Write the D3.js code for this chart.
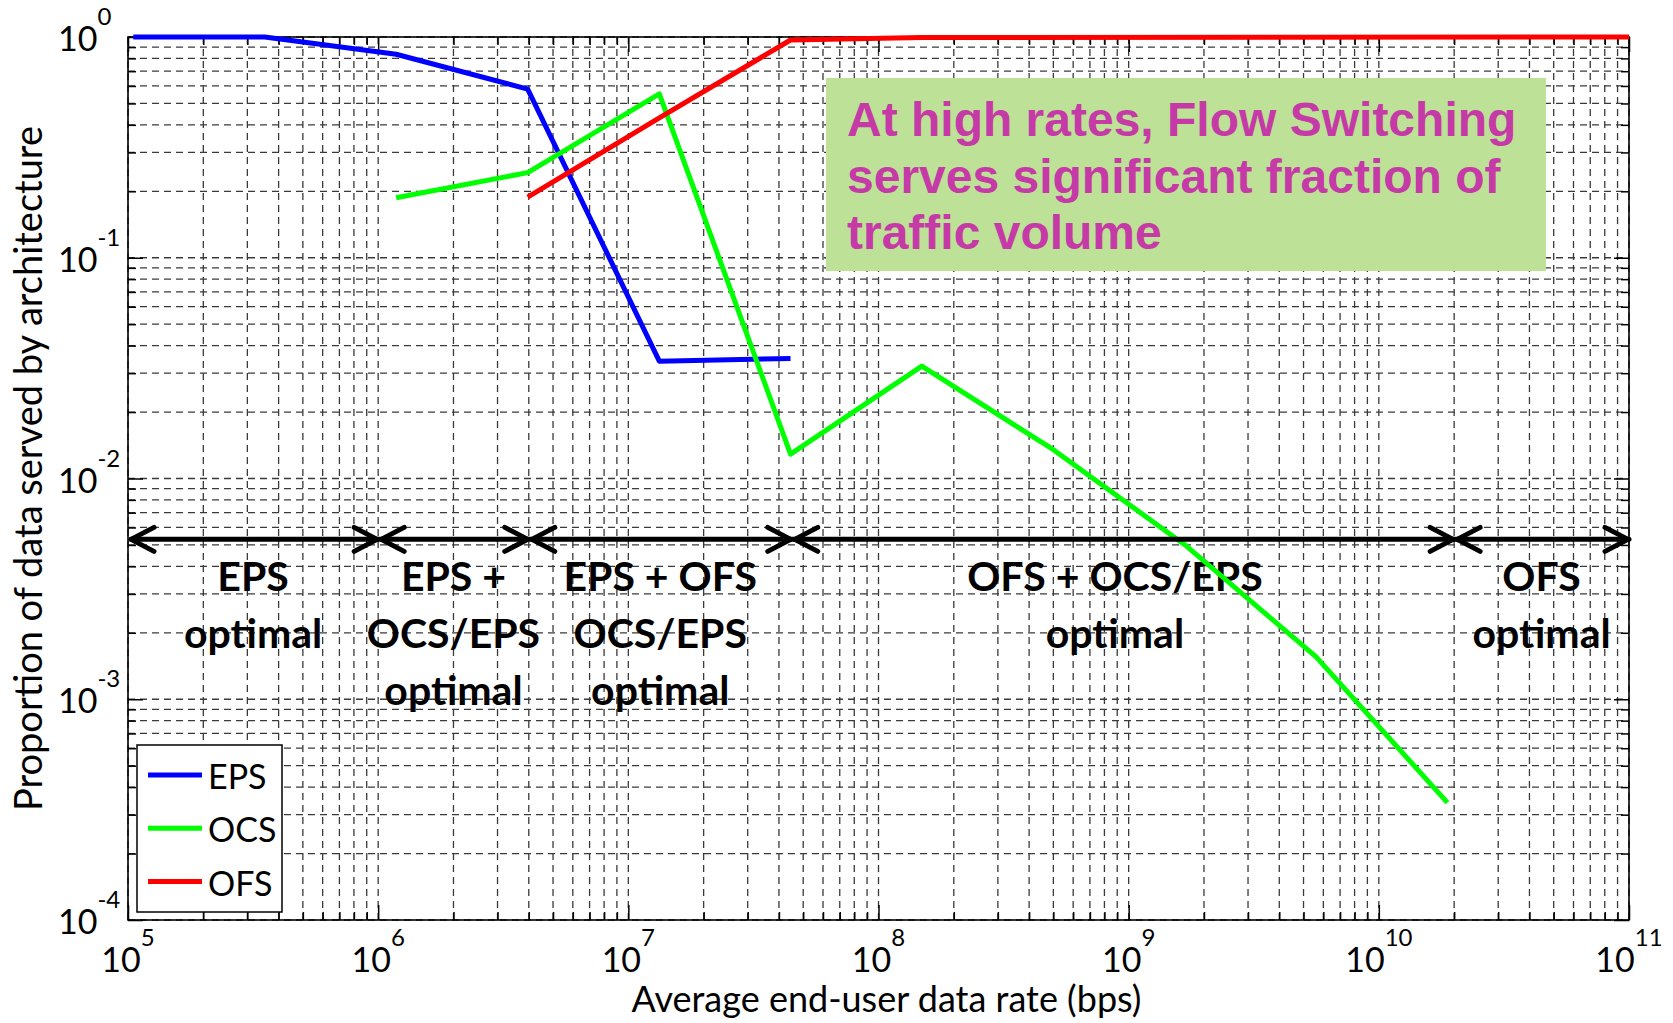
<!DOCTYPE html>
<html>
<head>
<meta charset="utf-8">
<script src="https://cdn.jsdelivr.net/npm/d3@7"></script>
<style>
  body { margin: 0; background: #fff; }
  svg { display: block; }
</style>
</head>
<body>
<div id="chart"></div>
<script>
// series (rate in bps, share of data)
const epsRate  = [1.05e5, 3.52e5, 1.18e6, 3.96e6, 1.33e7, 4.45e7];
const epsShare = [1.0, 1.0, 0.835, 0.581, 0.034, 0.035];
const ocsRate  = [1.18e6, 3.96e6, 1.33e7, 4.45e7, 1.49e8, 5.0e8, 1.68e9, 5.6e9, 1.88e10];
const ocsShare = [0.187, 0.243, 0.552, 0.0129, 0.0323, 0.0135, 0.005, 0.00156, 0.00034];
const ofsRate  = [3.96e6, 1.33e7, 4.45e7, 1.49e8, 1e11];
const ofsShare = [0.188, 0.43, 0.969, 0.995, 1.0];

const xExponents = [5, 6, 7, 8, 9, 10, 11];
const yExponents = [0, -1, -2, -3, -4];

// regions marked with arrows
const regionBounds = [1e5, 1e6, 4e6, 4.5e7, 2e10, 1e11];
const regionLabels = [
  ["EPS", "optimal"],
  ["EPS +", "OCS/EPS", "optimal"],
  ["EPS + OFS", "OCS/EPS", "optimal"],
  ["OFS + OCS/EPS", "optimal"],
  ["OFS", "optimal"]
];
const arrowLevel = 0.0053;

const noteLines = ["At high rates, Flow Switching", "serves significant fraction of", "traffic volume"];

const series = [
  { name: "EPS", color: "#0000ff", rate: epsRate, share: epsShare },
  { name: "OCS", color: "#00ff00", rate: ocsRate, share: ocsShare },
  { name: "OFS", color: "#ff0000", rate: ofsRate, share: ofsShare }
];

const W = 1673, H = 1023;
const margin = { left: 128, right: W - 1629, top: 37, bottom: H - 920 };
const innerW = W - margin.left - margin.right;
const innerH = H - margin.top - margin.bottom;

const svg = d3.select("#chart").append("svg").attr("width", W).attr("height", H);
const g = svg.append("g").attr("transform", `translate(${margin.left},${margin.top})`);

const x = d3.scaleLog().domain([1e5, 1e11]).range([0, innerW]);
const y = d3.scaleLog().domain([1e-4, 1]).range([innerH, 0]);

// minor + major tick values
const xMinor = [], yMinor = [];
for (let e = 5; e < 11; e++) for (let m = 2; m <= 9; m++) xMinor.push(m * Math.pow(10, e));
for (let e = -4; e < 0; e++) for (let m = 2; m <= 9; m++) yMinor.push(m * Math.pow(10, e));
const xMajor = xExponents.map(e => Math.pow(10, e));
const yMajor = yExponents.map(e => Math.pow(10, e));

// dashed grid
const grid = g.append("g").attr("stroke", "#3a3a3a").attr("stroke-width", 1.3).attr("stroke-dasharray", "7,5");
grid.selectAll(".vx").data(xMajor.concat(xMinor)).enter().append("line")
  .attr("x1", d => x(d)).attr("x2", d => x(d)).attr("y1", innerH).attr("y2", 0);
grid.selectAll(".hy").data(yMajor.concat(yMinor)).enter().append("line")
  .attr("x1", 0).attr("x2", innerW).attr("y1", d => y(d)).attr("y2", d => y(d));

// inside ticks on all four sides
function tickAxis(axis, values, size, transform) {
  g.append("g").attr("transform", transform)
    .call(axis.tickValues(values).tickSize(size).tickFormat(""))
    .call(s => s.select(".domain").remove())
    .call(s => s.selectAll("line").attr("stroke", "#000").attr("stroke-width", 1.5));
}
tickAxis(d3.axisBottom(x), xMajor, -15, `translate(0,${innerH})`);
tickAxis(d3.axisBottom(x), xMinor, -8, `translate(0,${innerH})`);
tickAxis(d3.axisTop(x), xMajor, -15, "translate(0,0)");
tickAxis(d3.axisTop(x), xMinor, -8, "translate(0,0)");
tickAxis(d3.axisLeft(y), yMajor, -15, "translate(0,0)");
tickAxis(d3.axisLeft(y), yMinor, -8, "translate(0,0)");
tickAxis(d3.axisRight(y), yMajor, -15, `translate(${innerW},0)`);
tickAxis(d3.axisRight(y), yMinor, -8, `translate(${innerW},0)`);

g.append("rect").attr("width", innerW).attr("height", innerH)
  .attr("fill", "none").attr("stroke", "#000").attr("stroke-width", 1.6);

// tick labels with superscripts
const tickFont = "Lato, 'Open Sans', sans-serif";
xExponents.forEach(e => {
  const t = g.append("text").attr("x", x(Math.pow(10, e))).attr("y", innerH + 52)
    .attr("text-anchor", "middle").attr("font-family", tickFont).attr("font-size", 34).attr("fill", "#000");
  t.append("tspan").text("10");
  t.append("tspan").attr("dy", -26).attr("font-size", 24).text(e);
});
yExponents.forEach(e => {
  const t = svg.append("text").attr("x", 58).attr("y", margin.top + y(Math.pow(10, e)) + 14)
    .attr("font-family", tickFont).attr("font-size", 34).attr("fill", "#000");
  t.append("tspan").text("10");
  t.append("tspan").attr("dy", -26).attr("font-size", 24).text(e);
});

// axis titles
svg.append("text").attr("x", margin.left + innerW / 2 + 8).attr("y", 1012)
  .attr("text-anchor", "middle").attr("font-family", tickFont).attr("font-size", 36)
  .text("Average end-user data rate (bps)");
svg.append("text").attr("transform", `translate(42,${margin.top + innerH / 2 - 10}) rotate(-90)`)
  .attr("text-anchor", "middle").attr("font-family", tickFont).attr("font-size", 38)
  .text("Proportion of data served by architecture");

// region labels
const ay = y(arrowLevel);
regionLabels.forEach((lines, i) => {
  const cx = (x(regionBounds[i]) + x(regionBounds[i + 1])) / 2 - (i === 3 ? 8 : 0);
  const t = g.append("text").attr("text-anchor", "middle")
    .attr("font-family", tickFont).attr("font-weight", "bold").attr("font-size", 41).attr("fill", "#000");
  lines.forEach((line, j) => {
    t.append("tspan").attr("x", cx).attr("y", ay + 52 + j * 57).text(line);
  });
});

// data lines
const line = d3.line().x(d => x(d[0])).y(d => y(d[1]));
series.forEach(s => {
  g.append("path").datum(d3.zip(s.rate, s.share))
    .attr("d", line).attr("fill", "none").attr("stroke", s.color)
    .attr("stroke-width", 5).attr("stroke-linejoin", "round");
});

// region arrows
const arrows = g.append("g").attr("stroke", "#000").attr("stroke-width", 5)
  .attr("stroke-linecap", "round").attr("stroke-linejoin", "round").attr("fill", "none");
arrows.append("line").attr("x1", x(regionBounds[0]) + 3).attr("x2", x(regionBounds[regionBounds.length - 1]))
  .attr("y1", ay).attr("y2", ay);
for (let i = 0; i < regionBounds.length - 1; i++) {
  const a = x(regionBounds[i]) + 3, b = x(regionBounds[i + 1]) - 1;
  arrows.append("path").attr("d", `M${a + 23},${ay - 12}L${a},${ay}L${a + 23},${ay + 12}`);
  arrows.append("path").attr("d", `M${b - 23},${ay - 12}L${b},${ay}L${b - 23},${ay + 12}`);
}

// note box
const note = svg.append("g");
note.append("rect").attr("x", 826).attr("y", 78).attr("width", 720).attr("height", 193).attr("fill", "#bde196");
const nt = note.append("text").attr("font-family", "'Liberation Sans', Arial, sans-serif")
  .attr("font-weight", "bold").attr("font-size", 48).attr("fill", "#c63aa8");
noteLines.forEach((l, i) => nt.append("tspan").attr("x", 847).attr("y", 136 + i * 56.5).text(l));

// legend
const lg = svg.append("g").attr("transform", "translate(137,745)");
lg.append("rect").attr("width", 145).attr("height", 167).attr("fill", "#fff").attr("stroke", "#000").attr("stroke-width", 1.5);
series.forEach((s, i) => {
  const ly = 30 + i * 53.3;
  lg.append("line").attr("x1", 11).attr("x2", 65).attr("y1", ly).attr("y2", ly)
    .attr("stroke", s.color).attr("stroke-width", 5);
  lg.append("text").attr("x", 71).attr("y", ly + 14).attr("font-family", tickFont)
    .attr("font-size", 34).text(s.name);
});
</script>
</body>
</html>
